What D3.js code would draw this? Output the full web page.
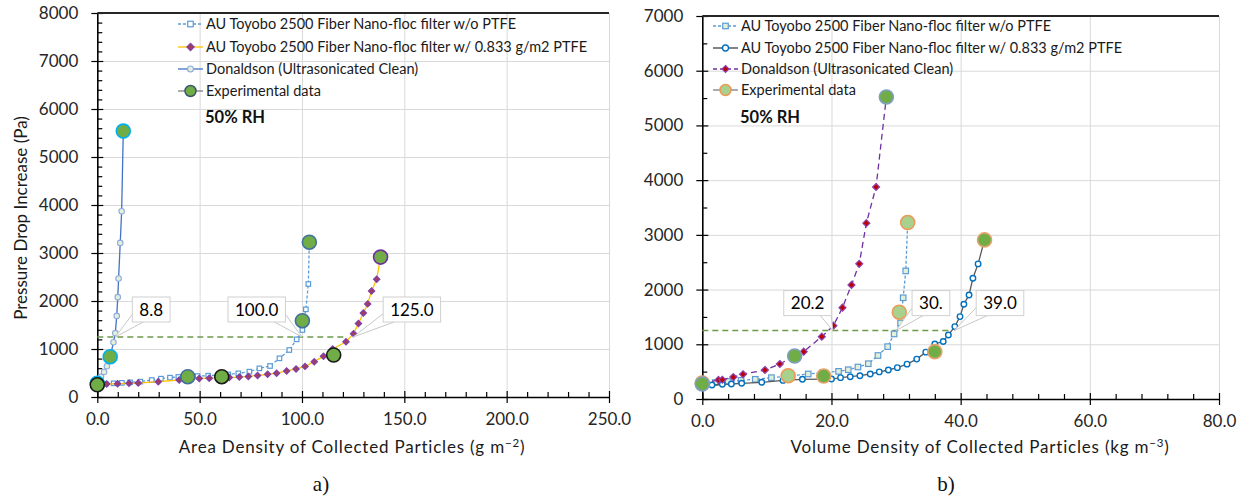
<!DOCTYPE html>
<html>
<head>
<meta charset="utf-8">
<script src="https://cdn.jsdelivr.net/npm/d3@7"></script>
<style>
  body { margin: 0; background: #fff; }
  svg { display: block; font-family: Lato, "Open Sans", sans-serif; }
</style>
</head>
<body>
<script>
// ---------- Panel a: pressure drop vs. area density ----------
const aTicksX = [0, 50, 100, 150, 200, 250];
const aTickLabelsX = ["0.0", "50.0", "100.0", "150.0", "200.0", "250.0"];
const aTicksY = [0, 1000, 2000, 3000, 4000, 5000, 6000, 7000, 8000];

const aNoPtfeX = [0, 4, 8, 12, 16, 21, 26.6, 31.1, 35.5, 39.6, 44.2, 49, 54.2, 59, 64, 68.9, 74.3, 79.2, 84.4, 89, 93.8, 97.4, 100.2, 101.9, 103.1, 103.6];
const aNoPtfeY = [260, 275, 285, 295, 305, 320, 354, 382, 403, 418, 428, 436, 444, 455, 470, 493, 528, 597, 646, 806, 979, 1201, 1396, 1826, 2354, 3225];

const aPtfeX = [0, 4.6, 9.9, 15.5, 20, 29.8, 40, 49.8, 54.7, 59.6, 64.5, 69.4, 73.8, 78.3, 83.2, 87.6, 92.5, 97.1, 101.5, 106, 110.5, 115, 121.5, 125.2, 127.6, 130, 132.1, 134, 136.5, 138.4];
const aPtfeY = [255, 271, 275, 285, 290, 319, 354, 385, 392, 400, 405, 415, 428, 448, 473, 497, 542, 585, 638, 736, 848, 1000, 1150, 1320, 1530, 1750, 1940, 2210, 2452, 2915];

const aDonX = [0, 1.8, 3.3, 4.7, 6.3, 7.9, 8.8, 9.5, 10.0, 10.4, 11.2, 11.9, 12.7];
const aDonY = [285, 420, 520, 640, 840, 1140, 1330, 1690, 2080, 2470, 3210, 3870, 5540];

// experimental points; group: 0 Donaldson, 1 w/o PTFE, 2 w/ PTFE, 3 w/ PTFE (final)
const aExpX = [0, 6.3, 12.7, 44.2, 100.2, 103.6, 0, 60.8, 115.5, 138.4];
const aExpY = [285, 840, 5540, 423, 1590, 3225, 255, 423, 875, 2915];
const aExpGroup = [0, 0, 0, 1, 1, 1, 2, 2, 2, 3];

const aCriterion = 1250;
const aCross = [8.8, 100.0, 125.0];
const aCrossLabels = ["8.8", "100.0", "125.0"];

const aLegendLabels = [
  "AU Toyobo 2500 Fiber Nano-floc filter w/o PTFE",
  "AU Toyobo 2500 Fiber Nano-floc filter w/ 0.833 g/m2 PTFE",
  "Donaldson (Ultrasonicated Clean)",
  "Experimental data"
];

// ---------- Panel b: pressure drop vs. volume density ----------
const bTicksX = [0, 20, 40, 60, 80];
const bTickLabelsX = ["0.0", "20.0", "40.0", "60.0", "80.0"];
const bTicksY = [0, 1000, 2000, 3000, 4000, 5000, 6000, 7000];

const bNoPtfeX = [0, 2, 4, 6, 8.2, 10.7, 13.3, 16.4, 18.6, 21.1, 22.6, 24.1, 25.7, 27.2, 28.7, 29.7, 30.7, 31.1, 31.5, 31.8];
const bNoPtfeY = [270, 300, 320, 340, 360, 390, 420, 457, 480, 505, 535, 585, 645, 795, 957, 1189, 1390, 1850, 2341, 3225];

const bPtfeX = [0, 1.5, 3.1, 4.5, 6.1, 9.2, 12.5, 15.5, 18.5, 20, 21.4, 22.9, 24.4, 26, 27.4, 28.8, 30.2, 31.7, 33.2, 34.6, 36, 37.3, 38.1, 39.1, 39.9, 40.5, 41.3, 41.9, 42.7, 43.7];
const bPtfeY = [250, 256, 269, 274, 287, 305, 340, 360, 362, 365, 390, 408, 426, 457, 495, 530, 573, 637, 729, 856, 1006, 1050, 1171, 1323, 1506, 1732, 1902, 2208, 2469, 2908];

const bDonX = [0, 2.5, 3.1, 4.8, 6.3, 9.7, 12, 14.3, 15.7, 18.5, 20.3, 21.7, 23.1, 24.3, 25.4, 26.9, 28.5];
const bDonY = [280, 348, 352, 400, 452, 530, 640, 786, 865, 1140, 1340, 1670, 2085, 2470, 3214, 3875, 5520];

// group: 0 Donaldson, 1 w/o PTFE, 2 w/ PTFE
const bExpX = [0, 13.3, 30.5, 31.8, 0, 14.3, 28.5, 18.8, 36, 43.7];
const bExpY = [290, 426, 1586, 3225, 275, 786, 5520, 420, 865, 2908];
const bExpGroup = [1, 1, 1, 1, 0, 0, 0, 2, 2, 2];

const bCriterion = 1250;
const bCross = [20.2, 30.0, 39.0];
const bCrossLabels = ["20.2", "30.", "39.0"];

const bLegendLabels = [
  "AU Toyobo 2500 Fiber Nano-floc filter w/o PTFE",
  "AU Toyobo 2500 Fiber Nano-floc filter w/ 0.833 g/m2 PTFE",
  "Donaldson (Ultrasonicated Clean)",
  "Experimental data"
];

// ---------- drawing ----------
const svg = d3.select("body").append("svg").attr("width", 1247).attr("height", 497);

function marker(g, m, cx, cy) {
  const s = m.size;
  let el;
  if (m.shape === "square") {
    el = g.append("rect").attr("x", cx - s / 2).attr("y", cy - s / 2).attr("width", s).attr("height", s);
  } else if (m.shape === "diamond") {
    const h = s / 2;
    el = g.append("path").attr("d", `M${cx},${cy - h}L${cx + h},${cy}L${cx},${cy + h}L${cx - h},${cy}Z`);
  } else {
    el = g.append("circle").attr("cx", cx).attr("cy", cy).attr("r", s / 2);
  }
  el.attr("fill", m.fill).attr("stroke", m.stroke).attr("stroke-width", m.sw);
}

function drawPanel(p) {
  const g = svg.append("g");
  const x = p.x, y = p.y;
  const [xa, xb] = x.range();
  const [ya, yb] = y.range(); // ya bottom, yb top

  // grid
  g.append("g").attr("transform", `translate(0,${ya})`)
    .call(d3.axisBottom(x).tickValues(p.ticksX.slice(1)).tickSize(-(ya - yb)).tickFormat("").tickSizeOuter(0))
    .call(s => { s.select(".domain").remove(); s.selectAll("line").attr("stroke", "#D9D9D9"); });
  g.append("g").attr("transform", `translate(${xa},0)`)
    .call(d3.axisLeft(y).tickValues(p.ticksY.slice(1)).tickSize(-(xb - xa)).tickFormat("").tickSizeOuter(0))
    .call(s => { s.select(".domain").remove(); s.selectAll("line").attr("stroke", "#D9D9D9"); });

  // axes
  const fontTick = s => s.selectAll("text").attr("font-size", 17).attr("fill", "#262626").attr("font-family", "Lato, sans-serif");
  g.append("g").attr("transform", `translate(${xa},0)`)
    .call(d3.axisLeft(y).tickValues(p.ticksY).tickFormat(d3.format("d")).tickSize(6).tickPadding(13).tickSizeOuter(0))
    .call(fontTick);
  g.append("g").attr("transform", `translate(${xa},0)`)
    .call(d3.axisLeft(y).tickValues(p.ticksY).tickSize(-6).tickFormat("").tickSizeOuter(0))
    .call(s => s.select(".domain").remove());
  g.append("g").attr("transform", `translate(${xa},0)`)
    .call(d3.axisLeft(y).tickValues(p.minorY).tickSize(-5).tickFormat("").tickSizeOuter(0))
    .call(s => s.select(".domain").remove());

  g.append("g").attr("transform", `translate(0,${ya})`)
    .call(d3.axisBottom(x).tickValues(p.ticksX).tickFormat((d, i) => p.tickLabelsX[i]).tickSize(6).tickPadding(10).tickSizeOuter(0))
    .call(fontTick);
  g.append("g").attr("transform", `translate(0,${ya})`)
    .call(d3.axisBottom(x).tickValues(p.ticksX).tickSize(-6).tickFormat("").tickSizeOuter(0))
    .call(s => s.select(".domain").remove());
  g.append("g").attr("transform", `translate(0,${ya})`)
    .call(d3.axisBottom(x).tickValues(p.minorX).tickSize(-5).tickFormat("").tickSizeOuter(0))
    .call(s => s.select(".domain").remove());
  g.selectAll(".domain").attr("stroke", "#000").attr("stroke-width", 1.6);
  g.selectAll(".tick line").filter(function () { return this.getAttribute("stroke") !== "#D9D9D9"; })
    .attr("stroke", "#000").attr("stroke-width", 1.2);

  // top frame line
  g.append("line").attr("x1", xa).attr("x2", xb).attr("y1", yb).attr("y2", yb)
    .attr("stroke", "#262626").attr("stroke-width", 2);

  // criterion line
  g.append("line").attr("x1", xa).attr("x2", x(p.critEnd)).attr("y1", y(p.criterion)).attr("y2", y(p.criterion))
    .attr("stroke", "#6E9B4B").attr("stroke-width", 1.5).attr("stroke-dasharray", "6,4");

  // series
  p.series.forEach(sr => {
    const pts = sr.xs.map((v, i) => [x(v), y(sr.ys[i])]);
    g.append("path").attr("d", d3.line()(pts)).attr("fill", "none")
      .attr("stroke", sr.line).attr("stroke-width", sr.lw || 1.3)
      .attr("stroke-dasharray", sr.dash || null);
    pts.forEach(([cx, cy]) => marker(g, sr.marker, cx, cy));
  });

  // experimental data
  p.expX.forEach((v, i) => {
    const st = p.expStyles[p.expGroup[i]];
    marker(g, { shape: "circle", size: 14, fill: st.fill, stroke: st.stroke, sw: 1.6 }, x(v), y(p.expY[i]));
  });

  // callouts for the criterion crossings
  p.cross.forEach((v, i) => {
    const tx = x(v), ty = y(p.criterion);
    const cg = g.append("g");
    const txt = cg.append("text").attr("font-size", 17).attr("fill", "#000").text(p.crossLabels[i]);
    const tw = txt.node().getComputedTextLength();
    const w = tw + 14, h = 25;
    const bx = tx + p.crossDx[i], by = ty - 40;
    let wedge;
    if (p.crossDx[i] > 0) wedge = [[bx + 1, by + h - 9], [tx, ty], [bx + 11, by + h]];
    else wedge = [[bx + w - 11, by + h], [tx, ty], [bx + w - 1, by + h - 9]];
    cg.insert("path", "text").attr("d", d3.line()(wedge) + "Z").attr("fill", "#fff").attr("stroke", "#C8C8C8").attr("stroke-width", 1);
    cg.insert("rect", "text").attr("x", bx).attr("y", by).attr("width", w).attr("height", h)
      .attr("fill", "#fff").attr("stroke", "#D0D0D0").attr("stroke-width", 1);
    txt.attr("x", bx + 7).attr("y", by + h / 2).attr("dy", "0.36em");
  });

  // legend
  const lg = g.append("g");
  p.legendLabels.forEach((lab, i) => {
    const ly = p.legendY[i];
    const it = p.legendItems[i];
    lg.append("line").attr("x1", p.legendX).attr("x2", p.legendX + 25).attr("y1", ly).attr("y2", ly)
      .attr("stroke", it.line).attr("stroke-width", 1.3).attr("stroke-dasharray", it.dash || null);
    marker(lg, it.marker, p.legendX + 12.5, ly);
    lg.append("text").attr("x", p.legendX + 28).attr("y", ly).attr("dy", "0.35em")
      .attr("font-size", 14.5).attr("fill", "#1a1a1a").text(lab);
  });
  lg.append("text").attr("x", p.legendX + 27).attr("y", p.rhY).attr("dy", "0.35em")
    .attr("font-size", 16.5).attr("font-weight", "bold").attr("fill", "#111").text("50% RH");

  // axis titles
  const xt = g.append("text").attr("x", p.xTitleX).attr("y", 447).attr("dy", "0.35em")
    .attr("text-anchor", "middle").attr("font-size", 17).attr("letter-spacing", "0.8px").attr("fill", "#1a1a1a");
  xt.append("tspan").text(p.xTitle);
  xt.append("tspan").attr("font-size", 11.5).attr("dy", "-0.55em").text(p.xSup);
  xt.append("tspan").attr("dy", "0.38em").text(")");

  g.append("text").attr("x", p.panelX).attr("y", 484).attr("dy", "0.35em").attr("text-anchor", "middle")
    .attr("font-family", "'Liberation Serif', 'DejaVu Serif', serif").attr("font-size", 21).attr("fill", "#111")
    .text(p.panelLabel);
}

// ---- panel a ----
drawPanel({
  x: d3.scaleLinear([0, 250], [97.3, 609]),
  y: d3.scaleLinear([0, 8000], [397, 13]),
  ticksX: aTicksX, tickLabelsX: aTickLabelsX, ticksY: aTicksY,
  minorX: d3.range(10, 250, 10).filter(v => v % 50 !== 0),
  minorY: d3.range(200, 8000, 200).filter(v => v % 1000 !== 0),
  criterion: aCriterion, critEnd: 122,
  series: [
    { xs: aNoPtfeX, ys: aNoPtfeY, line: "#5B9BD5", dash: "3,2",
      marker: { shape: "square", size: 4.5, fill: "#fff", stroke: "#5B9BD5", sw: 1.2 } },
    { xs: aPtfeX, ys: aPtfeY, line: "#FFC000",
      marker: { shape: "diamond", size: 6, fill: "#A63C55", stroke: "#7F3FA8", sw: 1.4 } },
    { xs: aDonX, ys: aDonY, line: "#4472C4",
      marker: { shape: "circle", size: 5.5, fill: "#E2EFDA", stroke: "#8FAADC", sw: 1.1 } }
  ],
  expX: aExpX, expY: aExpY, expGroup: aExpGroup,
  expStyles: [
    { fill: "#70AD47", stroke: "#00B0F0" },
    { fill: "#70AD47", stroke: "#41719C" },
    { fill: "#70AD47", stroke: "#1A1A1A" },
    { fill: "#70AD47", stroke: "#7030A0" }
  ],
  cross: aCross, crossLabels: aCrossLabels, crossDx: [17, -74, 30],
  legendLabels: aLegendLabels, legendX: 178, legendY: [24, 47, 69, 91], rhY: 117,
  legendItems: [
    { line: "#5B9BD5", dash: "3,2", marker: { shape: "square", size: 5.5, fill: "#fff", stroke: "#5B9BD5", sw: 1.2 } },
    { line: "#FFC000", marker: { shape: "diamond", size: 7, fill: "#A63C55", stroke: "#7F3FA8", sw: 1.4 } },
    { line: "#4472C4", marker: { shape: "circle", size: 6, fill: "#E2EFDA", stroke: "#8FAADC", sw: 1.1 } },
    { line: "#7F7F7F", marker: { shape: "circle", size: 11, fill: "#70AD47", stroke: "#3B5570", sw: 1.5 } }
  ],
  xTitle: "Area Density of Collected Particles (g m", xSup: "\u22122", xTitleX: 352,
  panelLabel: "a)", panelX: 321
});

// y-axis title (panel a only)
svg.append("text").attr("transform", "translate(21,218) rotate(-90)").attr("text-anchor", "middle")
  .attr("dy", "0.35em").attr("font-size", 17).attr("fill", "#1a1a1a").text("Pressure Drop Increase (Pa)");

// ---- panel b ----
drawPanel({
  x: d3.scaleLinear([0, 80], [702.3, 1219]),
  y: d3.scaleLinear([0, 7000], [399, 16]),
  ticksX: bTicksX, tickLabelsX: bTickLabelsX, ticksY: bTicksY,
  minorX: d3.range(4, 80, 4).filter(v => v % 20 !== 0),
  minorY: d3.range(500, 7000, 500).filter(v => v % 1000 !== 0),
  criterion: bCriterion, critEnd: 38.5,
  series: [
    { xs: bNoPtfeX, ys: bNoPtfeY, line: "#5B9BD5", dash: "3,2",
      marker: { shape: "square", size: 5.5, fill: "#E2F0D9", stroke: "#5B9BD5", sw: 1.2 } },
    { xs: bPtfeX, ys: bPtfeY, line: "#595959",
      marker: { shape: "circle", size: 5.5, fill: "#fff", stroke: "#0070C0", sw: 1.4 } },
    { xs: bDonX, ys: bDonY, line: "#7030A0", dash: "6,4",
      marker: { shape: "diamond", size: 7, fill: "#C00000", stroke: "#8E44B0", sw: 1.2 } }
  ],
  expX: bExpX, expY: bExpY, expGroup: bExpGroup,
  expStyles: [
    { fill: "#70AD47", stroke: "#7F9FC4" },
    { fill: "#A9D18E", stroke: "#ED9A55" },
    { fill: "#70AD47", stroke: "#E2A36B" }
  ],
  cross: bCross, crossLabels: bCrossLabels, crossDx: [-49, 16, 22],
  legendLabels: bLegendLabels, legendX: 713, legendY: [26, 48, 69, 90], rhY: 117,
  legendItems: [
    { line: "#5B9BD5", dash: "3,2", marker: { shape: "square", size: 5.5, fill: "#E2F0D9", stroke: "#5B9BD5", sw: 1.2 } },
    { line: "#404040", marker: { shape: "circle", size: 6, fill: "#fff", stroke: "#0070C0", sw: 1.3 } },
    { line: "#7030A0", dash: "4,3", marker: { shape: "diamond", size: 7, fill: "#C00000", stroke: "#8E44B0", sw: 1.2 } },
    { line: "#7F7F7F", marker: { shape: "circle", size: 11, fill: "#A9D18E", stroke: "#ED9A55", sw: 1.5 } }
  ],
  xTitle: "Volume Density of Collected Particles (kg m", xSup: "\u22123", xTitleX: 980,
  panelLabel: "b)", panelX: 946
});
</script>
</body>
</html>
